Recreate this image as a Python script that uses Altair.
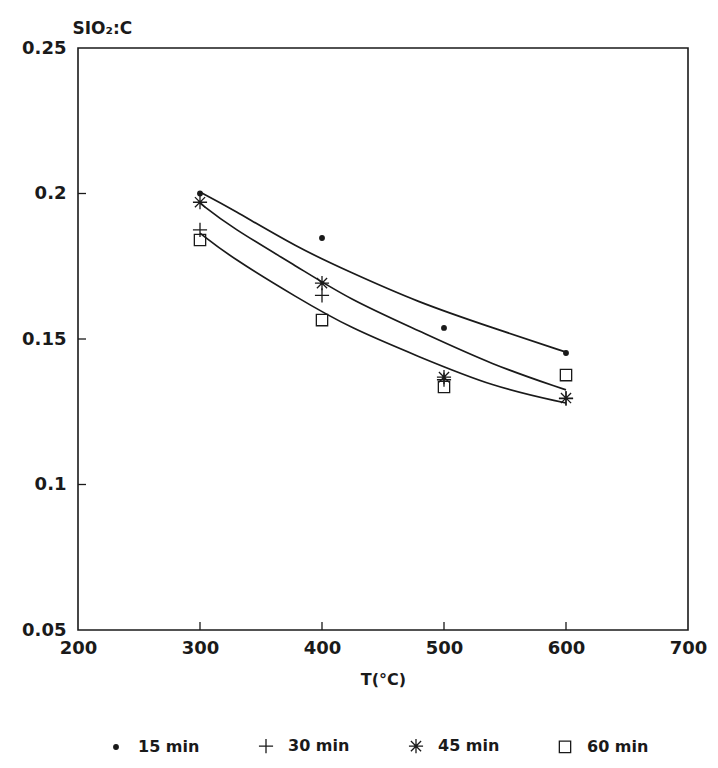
import altair as alt
import pandas as pd

# ---- data ----
temps = [300, 400, 500, 600]
series = ["15 min", "30 min", "45 min", "60 min"]
v15 = [0.2000, 0.1847, 0.1538, 0.1452]
v30 = [0.1875, 0.1650, 0.1360, 0.1295]
v45 = [0.1970, 0.1692, 0.1369, 0.1297]
v60 = [0.1840, 0.1565, 0.1335, 0.1376]

curve_t = [300, 325, 380, 423, 478, 540, 600]
curve_upper = [0.2005, 0.1950, 0.1813, 0.1730, 0.1627, 0.1538, 0.1455]
curve_middle = [0.1967, 0.1885, 0.1748, 0.1635, 0.1531, 0.1410, 0.1325]
curve_lower = [0.1864, 0.1782, 0.1641, 0.1538, 0.1442, 0.1335, 0.1280]
curve_names = ["upper", "middle", "lower"]

x_label_values = [200, 300, 400, 500, 600, 700]
y_label_values = [0.05, 0.1, 0.15, 0.2, 0.25]
x_tick_values = [300, 400, 500, 600]
y_tick_values = [0.1, 0.15, 0.2]

# ---- tables ----
pts = pd.DataFrame(
    [
        {"T": t, "ratio": v, "series": s}
        for s, vals in zip(series, [v15, v30, v45, v60])
        for t, v in zip(temps, vals)
    ]
)
curves = pd.DataFrame(
    [
        {"T": t, "ratio": v, "curve": n}
        for n, vals in zip(curve_names, [curve_upper, curve_middle, curve_lower])
        for t, v in zip(curve_t, vals)
    ]
)
xt = pd.DataFrame({"T": x_tick_values})
yt = pd.DataFrame({"ratio": y_tick_values})

INK = "#1a1a1a"
FONT = "DejaVu Sans"
W, H = 610, 582

DOT = "M-0.32,0A0.32,0.32 0 1,0 0.32,0A0.32,0.32 0 1,0 -0.32,0Z"
PLUS = "M-1,0L1,0M0,-1L0,1"
STAR = "M-1,0L1,0M0,-1L0,1M-0.72,-0.72L0.72,0.72M-0.72,0.72L0.72,-0.72"
SQUARE = "M-0.8,-0.8L0.8,-0.8L0.8,0.8L-0.8,0.8Z"

xs = alt.Scale(domain=[200, 700], nice=False, zero=False)
ys = alt.Scale(domain=[0.05, 0.25], nice=False, zero=False)

x_axis = alt.Axis(
    values=x_label_values, format="d", title="T(°C)",
    labelFont=FONT, labelFontWeight="bold", labelFontSize=18, labelColor=INK,
    labelPadding=9, labelFlush=False, ticks=False, tickSize=0, domain=False, grid=False,
    titleFont=FONT, titleFontWeight="bold", titleFontSize=16, titleColor=INK,
    titlePadding=14,
)
y_axis = alt.Axis(
    values=y_label_values, format=".2~f", title="SIO₂:C",
    labelFont=FONT, labelFontWeight="bold", labelFontSize=18, labelColor=INK,
    labelPadding=12, labelFlush=False, ticks=False, tickSize=0, domain=False, grid=False,
    titleFont=FONT, titleFontWeight="bold", titleFontSize=17, titleColor=INK,
    titleAngle=0, titleAlign="left", titleBaseline="alphabetic",
    titleX=-6, titleY=-15,
)

legend = alt.Legend(
    orient="none", legendX=30, legendY=690, direction="horizontal", columns=4,
    labelFont=FONT, labelFontWeight="bold", labelFontSize=16, labelColor=INK,
    symbolSize=200, symbolStrokeWidth=1.3,
    labelOffset=14, columnPadding=56, title=None,
)

X = alt.X("T:Q", scale=xs, axis=x_axis)
Y = alt.Y("ratio:Q", scale=ys, axis=y_axis)

points = alt.Chart(pts).mark_point(filled=False, size=200, strokeWidth=1.3, opacity=1).encode(
    x=X,
    y=Y,
    shape=alt.Shape("series:N", scale=alt.Scale(domain=series, range=[DOT, PLUS, STAR, SQUARE]),
                    legend=legend, title=None),
    fill=alt.Fill("series:N", scale=alt.Scale(domain=series, range=[INK, "transparent", "transparent", "transparent"]),
                  legend=legend, title=None),
    stroke=alt.Stroke("series:N", scale=alt.Scale(domain=series, range=[INK, INK, INK, INK]),
                      legend=legend, title=None),
)

lines = alt.Chart(curves).mark_line(interpolate="basis", color=INK, strokeWidth=1.7).encode(
    x=X,
    y=Y,
    detail="curve:N",
)

xticks = alt.Chart(xt).mark_rule(color=INK, strokeWidth=1.3).encode(
    x=X,
    y=alt.value(H),
    y2=alt.value(H - 8),
)
yticks = alt.Chart(yt).mark_rule(color=INK, strokeWidth=1.3).encode(
    y=Y,
    x=alt.value(0),
    x2=alt.value(8),
)

chart = (
    alt.layer(lines, points, xticks, yticks)
    .properties(
        width=W, height=H, autosize="none",
        padding={"left": 78, "top": 48, "right": 30, "bottom": 138},
        background="white",
    )
    .configure_view(stroke=INK, strokeWidth=1.6)
)

chart.save("out.html", embed_options={"renderer": "svg", "actions": False})
